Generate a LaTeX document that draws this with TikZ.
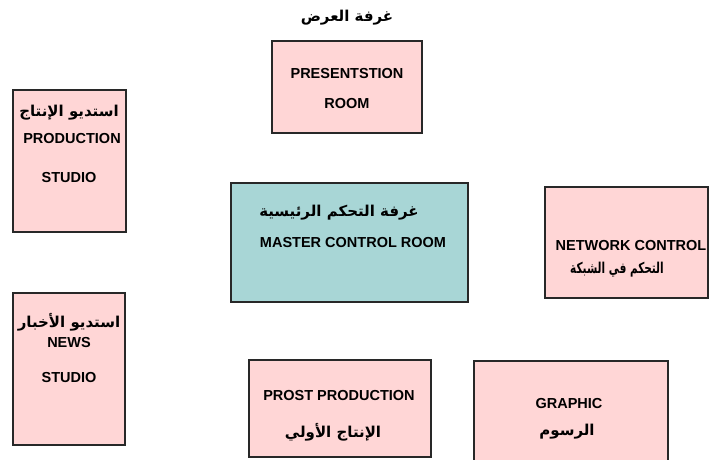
\documentclass[tikz,border=0pt]{standalone}
\usepackage{fontspec}
\setmainfont{Liberation Sans}
\newfontfamily\arabicfont[Script=Arabic]{DejaVu Sans}
\TeXXeTstate=1
\usetikzlibrary{shadows}
\definecolor{rosa}{RGB}{255,214,214}
\definecolor{verdeagua}{RGB}{168,214,214}
\definecolor{borda}{RGB}{40,40,40}
\tikzset{
  sala/.style={draw=borda, line width=1.2pt, fill=rosa, rectangle, inner sep=0pt,
    drop shadow={shadow xshift=1.2pt, shadow yshift=-1.2pt, fill=black!35, opacity=0.6}},
  ingles/.style={font=\fontsize{14.5}{16}\selectfont\bfseries, inner sep=0pt},
  arabe/.style={font=\fontsize{15}{17}\selectfont\arabicfont\bfseries, inner sep=0pt}
}
\begin{document}
\begin{tikzpicture}[x=1pt, y=-1pt]
  \useasboundingbox (0,0) rectangle (711,459);

  % Salas (caixas)
  \node[sala, minimum width=150, minimum height=92] (apresentacao) at (347,87) {};
  \node[sala, minimum width=113, minimum height=142] (producao) at (69.5,161) {};
  \node[sala, minimum width=112, minimum height=152] (noticias) at (69,369) {};
  \node[sala, fill=verdeagua, minimum width=237, minimum height=119] (mestre) at (349.5,242.5) {};
  \node[sala, minimum width=163, minimum height=111] (rede) at (626.5,242.5) {};
  \node[sala, minimum width=182, minimum height=97] (posproducao) at (340,408.5) {};
  \node[sala, minimum width=194, minimum height=120] (grafico) at (571,421) {};

  % Textos
  \node[arabe] (tituloapres) at (347,18) {\beginR غرفة العرض\endR};
  \node[ingles] (apres1) at (347,74) {PRESENTSTION};
  \node[ingles] (apres2) at (347,104) {ROOM};

  \node[arabe] (prod0) at (69,113) {\beginR استديو الإنتاج\endR};
  \node[ingles] (prod1) at (72,139) {PRODUCTION};
  \node[ingles] (prod2) at (69,178) {STUDIO};

  \node[arabe] (noti0) at (69,322) {\beginR استديو الأخبار\endR};
  \node[ingles] (noti1) at (69,342) {NEWS};
  \node[ingles] (noti2) at (69,377) {STUDIO};

  \node[arabe] (mestre0) at (339,213) {\beginR غرفة التحكم الرئيسية\endR};
  \node[ingles] (mestre1) at (353,242) {MASTER CONTROL ROOM};

  \node[ingles] (rede1) at (631,245) {NETWORK CONTROL};
  \node[arabe] (rede0) at (617,270) {\scalebox{0.7}[1]{\beginR التحكم في الشبكة\endR}};

  \node[ingles] (pos1) at (339,395) {PROST PRODUCTION};
  \node[arabe] (pos0) at (333,432) {\beginR الإنتاج الأولي\endR};

  \node[ingles] (graf1) at (569,403) {GRAPHIC};
  \node[arabe] (graf0) at (567,432) {\beginR الرسوم\endR};
\end{tikzpicture}
\end{document}
